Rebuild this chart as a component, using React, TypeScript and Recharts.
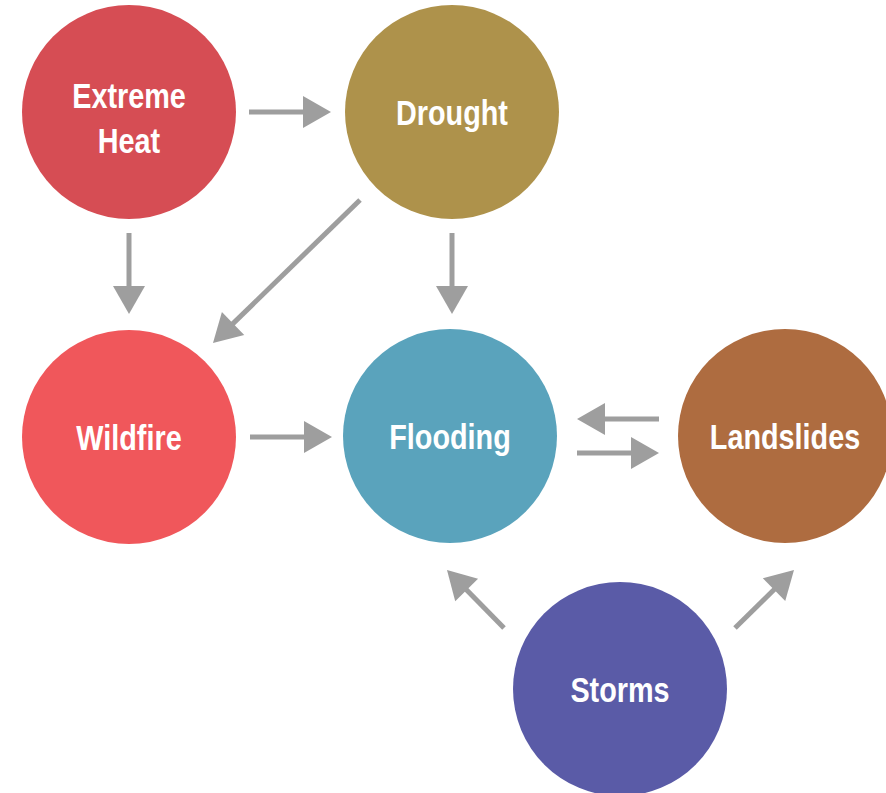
import { ScatterChart, Scatter, XAxis, YAxis, ReferenceLine } from "recharts"

// nodes of the hazard network (layout units)
const nodeNames = ["Extreme Heat", "Drought", "Wildfire", "Flooding", "Landslides", "Storms"]
const nodeX = [129, 452, 129, 450, 785, 620]
const nodeY = [112, 112, 437, 436, 436, 689]
const nodeColors = ["#D64D54", "#AE924B", "#F0575B", "#5AA3BC", "#AE6C40", "#5A5BA7"]

// arrows: start and tip, in the same units
const edgeFrom = [
    [249, 112],
    [129, 233],
    [360, 200],
    [452, 233],
    [250, 437],
    [659, 419],
    [577, 453],
    [504, 628],
    [735, 628],
]
const edgeTo = [
    [331, 112],
    [129, 314],
    [213, 343],
    [452, 314],
    [332, 437],
    [577, 419],
    [659, 453],
    [447, 570],
    [794, 570],
]

const W = 886
const H = 793
const R = 107
const ARROW = "#9E9E9E"
const FONT = "'Liberation Sans', Arial, sans-serif"

const nodes = nodeNames.map((name, i) => ({ name, x: nodeX[i], y: nodeY[i], color: nodeColors[i] }))

function NodeShape(props: any) {
    const { cx, cy, payload } = props
    const lines = payload.name.split(" ")
    const lh = 45
    const n = lines.length - 1
    const top = cy + 13 - (n * lh) / 2 + n * 5
    return (
        <g>
            <circle cx={cx} cy={cy} r={R} fill={payload.color} />
            {lines.map((l: string, i: number) => (
                // squeezed bold sans, close to the condensed face of the original
                <text
                    key={l}
                    transform={`translate(${cx},${top + i * lh}) scale(0.8,1)`}
                    textAnchor="middle"
                    fill="#fff"
                    fontFamily={FONT}
                    fontWeight="bold"
                    fontSize={36}
                >
                    {l}
                </text>
            ))}
        </g>
    )
}

function ArrowShape(props: any) {
    const { x1, y1, x2, y2 } = props
    const dx = x2 - x1
    const dy = y2 - y1
    const len = Math.sqrt(dx * dx + dy * dy)
    const ux = dx / len
    const uy = dy / len
    const head = 28
    const half = 16
    const bx = x2 - ux * head
    const by = y2 - uy * head
    const pts = [
        [x2, y2],
        [bx - uy * half, by + ux * half],
        [bx + uy * half, by - ux * half],
    ]
    return (
        <g>
            <line x1={x1} y1={y1} x2={bx + ux * 2} y2={by + uy * 2} stroke={ARROW} strokeWidth={5} />
            <polygon points={pts.map((p) => p.join(",")).join(" ")} fill={ARROW} />
        </g>
    )
}

export default function App() {
    return (
        <div style={{ width: W, height: H, background: "#fff" }}>
            <style>{"body{margin:0}"}</style>
            <ScatterChart width={W} height={H} margin={{ top: 0, right: 0, bottom: 0, left: 0 }}>
                <XAxis type="number" dataKey="x" domain={[0, W]} hide />
                <YAxis type="number" dataKey="y" domain={[0, H]} reversed hide />
                {edgeFrom.map((f, i) => (
                    <ReferenceLine
                        key={i}
                        segment={[
                            { x: f[0], y: f[1] },
                            { x: edgeTo[i][0], y: edgeTo[i][1] },
                        ]}
                        shape={ArrowShape}
                    />
                ))}
                <Scatter data={nodes} shape={NodeShape} isAnimationActive={false} />
            </ScatterChart>
        </div>
    )
}
